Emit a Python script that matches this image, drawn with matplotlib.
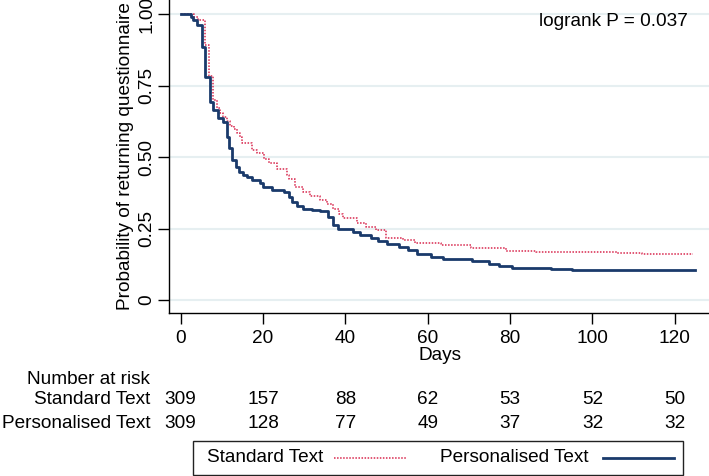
import matplotlib
matplotlib.use("Agg")
import matplotlib.pyplot as plt
from matplotlib.lines import Line2D
from matplotlib.patches import Rectangle
from matplotlib.transforms import blended_transform_factory

plt.rcParams['font.family'] = ['Liberation Sans', 'DejaVu Sans']

# Kaplan-Meier step data (days, survival probability)
std_days = [0, 3.2, 4.3, 5.9, 6.8, 7.9, 8.7, 9.5, 10.3, 11.2, 12.0, 12.9, 13.6, 14.3,
            14.9, 17.3, 18.5, 20.2, 21.5, 23.5, 25.8, 26.2, 27.8, 29.8, 31.5, 33.8,
            35.5, 37.0, 38.5, 39.4, 42.7, 45.0, 47.5, 49.9, 53.9, 56.8, 63.2, 70.5,
            78.9, 86.2, 106.0, 112.0, 124.4]
std_surv = [1.0, 0.99, 0.98, 0.89, 0.785, 0.70, 0.672, 0.655, 0.64, 0.625, 0.61, 0.598,
            0.585, 0.57, 0.548, 0.524, 0.513, 0.495, 0.48, 0.46, 0.437, 0.425, 0.396,
            0.379, 0.365, 0.35, 0.335, 0.32, 0.30, 0.286, 0.268, 0.255, 0.245, 0.216,
            0.21, 0.20, 0.192, 0.183, 0.172, 0.169, 0.165, 0.162, 0.162]

pers_days = [0, 2.4, 3.1, 4.0, 5.1, 6.0, 7.1, 7.9, 9.1, 10.3, 11.3, 11.8, 12.5, 13.5,
             14.2, 15.2, 16.1, 17.3, 19.3, 20.1, 22.1, 25.0, 26.2, 27.0, 28.2, 29.8,
             31.8, 33.8, 35.8, 37.0, 38.2, 41.9, 43.5, 46.3, 48.0, 50.0, 53.1, 55.3,
             57.5, 60.8, 63.6, 70.8, 74.9, 77.3, 80.4, 90.0, 95.0, 124.8]
pers_surv = [1.0, 0.99, 0.98, 0.96, 0.886, 0.78, 0.693, 0.664, 0.636, 0.623, 0.571, 0.53,
             0.49, 0.466, 0.449, 0.437, 0.429, 0.42, 0.408, 0.396, 0.385, 0.379, 0.361,
             0.344, 0.329, 0.32, 0.315, 0.312, 0.291, 0.262, 0.25, 0.239, 0.227, 0.216,
             0.208, 0.195, 0.186, 0.175, 0.161, 0.149, 0.142, 0.136, 0.128, 0.12, 0.114,
             0.108, 0.105, 0.105]

risk_times = [0, 20, 40, 60, 80, 100, 120]
risk_std = [309, 157, 88, 62, 53, 52, 50]
risk_pers = [309, 128, 77, 49, 37, 32, 32]

group_labels = ["Standard Text", "Personalised Text"]
y_ticks = [0, 0.25, 0.5, 0.75, 1.0]
y_ticklabels = ["0", "0.25", "0.50", "0.75", "1.00"]
x_ticks = [0, 20, 40, 60, 80, 100, 120]

FS = 13.7
red = '#d8284e'
navy = '#1a3a6b'
W, H = 709, 476
fig = plt.figure(figsize=(W / 100, H / 100), dpi=100)
ax = fig.add_axes([169 / W, 1 - 313 / H, (709 - 169) / W, 313 / H])

ax.step(std_days, std_surv, where='post', color=red, lw=1.1, ls=(0, (1, 1)))
ax.step(pers_days, pers_surv, where='post', color=navy, lw=2.0)

ax.set_xlim(-2.84, 128.3)
ax.set_ylim(-0.045, 1.049)
ax.set_yticks(y_ticks)
ax.set_yticklabels(y_ticklabels, rotation=90, va='center')
ax.set_xticks(x_ticks)
for y in y_ticks:
    ax.axhline(y, color='#e6eff1', lw=1.5, zorder=0)
for s in ['top', 'right']:
    ax.spines[s].set_visible(False)
for s in ['left', 'bottom']:
    ax.spines[s].set_linewidth(1.0)
ax.tick_params(axis='x', direction='out', length=8, width=1.0, labelsize=FS, pad=4)
ax.tick_params(axis='y', direction='out', length=8, width=1.0, labelsize=FS, pad=2)
ax.set_ylabel("Probability of returning questionnaire", fontsize=FS, labelpad=3)

fig.text(440 / W, 1 - 355 / H, "Days", ha='center', va='center', fontsize=FS)
fig.text(688 / W, 1 - 21 / H, "logrank P = 0.037", ha='right', va='center', fontsize=FS)

# Number at risk table
tr = blended_transform_factory(ax.transData, fig.transFigure)
lab_x = 150 / W
fig.text(lab_x, 1 - 379 / H, "Number at risk", ha='right', va='center', fontsize=FS)
fig.text(lab_x, 1 - 400 / H, group_labels[0], ha='right', va='center', fontsize=FS)
fig.text(lab_x, 1 - 423 / H, group_labels[1], ha='right', va='center', fontsize=FS)
for t, a, b in zip(risk_times, risk_std, risk_pers):
    ax.text(t, 1 - 400 / H, str(a), transform=tr, ha='center', va='center', fontsize=FS)
    ax.text(t, 1 - 423 / H, str(b), transform=tr, ha='center', va='center', fontsize=FS)

# Legend box (text followed by key, Stata style)
fig.patches.append(Rectangle((193 / W, 1 - 475 / H), (683 - 193) / W, (475 - 441) / H,
                             transform=fig.transFigure, fill=False, edgecolor='#222222',
                             lw=1.0))
ly = 1 - 458 / H
fig.text(207 / W, ly, group_labels[0], ha='left', va='center', fontsize=FS)
fig.lines.append(Line2D([334 / W, 407 / W], [ly, ly], transform=fig.transFigure,
                        color=red, lw=1.1, ls=(0, (1, 1))))
fig.text(440 / W, ly, group_labels[1], ha='left', va='center', fontsize=FS)
fig.lines.append(Line2D([603 / W, 674 / W], [ly, ly], transform=fig.transFigure,
                        color=navy, lw=2.0))

fig.savefig("out.png", dpi=100)
